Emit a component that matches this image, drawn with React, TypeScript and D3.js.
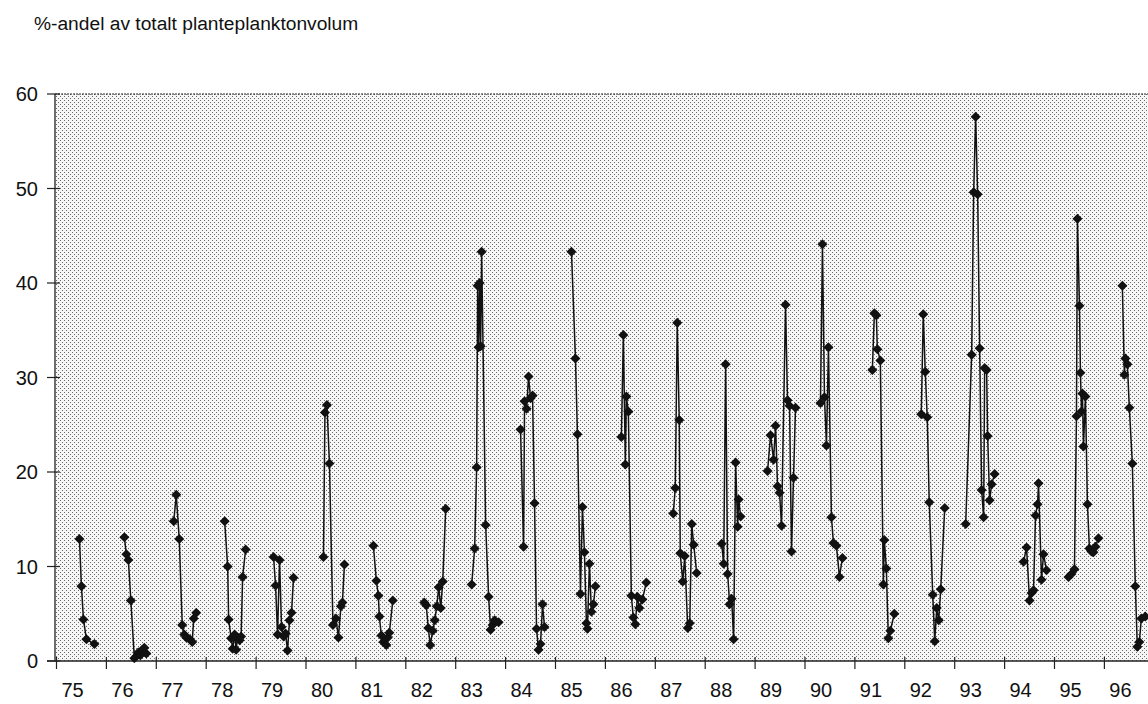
import React from "react";
import * as d3 from "d3";

// Year labels on the x axis
const yearLabels = ["75","76","77","78","79","80","81","82","83","84","85","86","87","88","89","90","91","92","93","94","95","96"];
const firstYear = 1975;

// Sample times within each season (fraction of year)
const sampleFractions: number[][] = [
  [0.46,0.50,0.54,0.60,0.76],
  [0.36,0.40,0.44,0.49,0.56,0.60,0.64,0.68,0.72,0.76,0.80],
  [0.35,0.40,0.46,0.52,0.56,0.60,0.67,0.72,0.75,0.80],
  [0.37,0.43,0.45,0.50,0.53,0.57,0.60,0.63,0.67,0.70,0.73,0.79],
  [0.35,0.39,0.43,0.47,0.51,0.55,0.59,0.63,0.67,0.71,0.75],
  [0.35,0.38,0.42,0.47,0.54,0.60,0.65,0.70,0.73,0.77],
  [0.35,0.41,0.45,0.47,0.51,0.55,0.61,0.64,0.67,0.74],
  [0.37,0.41,0.45,0.49,0.54,0.58,0.62,0.66,0.70,0.74,0.80],
  [0.32,0.38,0.42,0.44,0.46,0.48,0.50,0.52,0.60,0.66,0.70,0.74,0.78,0.86],
  [0.30,0.36,0.38,0.42,0.46,0.50,0.54,0.58,0.62,0.66,0.70,0.74,0.78],
  [0.32,0.40,0.44,0.50,0.54,0.58,0.62,0.64,0.68,0.72,0.76,0.80],
  [0.32,0.36,0.40,0.42,0.46,0.52,0.56,0.60,0.64,0.68,0.74,0.82],
  [0.36,0.40,0.44,0.48,0.50,0.55,0.59,0.65,0.69,0.73,0.77,0.83],
  [0.33,0.37,0.41,0.45,0.49,0.53,0.57,0.61,0.65,0.67,0.71],
  [0.25,0.31,0.37,0.41,0.45,0.49,0.53,0.61,0.65,0.69,0.73,0.77,0.81],
  [0.31,0.35,0.39,0.43,0.47,0.53,0.57,0.63,0.69,0.75],
  [0.35,0.39,0.43,0.45,0.51,0.57,0.59,0.63,0.67,0.71,0.79],
  [0.33,0.37,0.41,0.45,0.49,0.56,0.60,0.64,0.68,0.72,0.80],
  [0.22,0.34,0.38,0.42,0.46,0.50,0.54,0.58,0.60,0.64,0.66,0.70,0.74,0.80],
  [0.38,0.44,0.50,0.54,0.58,0.62,0.66,0.68,0.74,0.78,0.84],
  [0.28,0.34,0.40,0.44,0.46,0.50,0.52,0.54,0.56,0.58,0.62,0.66,0.70,0.74,0.78,0.82,0.88],
  [0.36,0.40,0.42,0.46,0.50,0.56,0.62,0.66,0.70,0.74,0.82],
];

// Percent of total phytoplankton volume
const sampleValues: number[][] = [
  [12.9,7.9,4.4,2.3,1.8],
  [13.1,11.3,10.7,6.4,0.3,0.5,0.9,0.6,1.2,1.4,0.8],
  [14.8,17.6,12.9,3.8,2.8,2.5,2.3,2.0,4.5,5.1],
  [14.8,10.0,4.4,2.4,1.3,2.8,1.2,2.5,2.2,2.6,8.9,11.8],
  [11.0,8.0,2.8,10.7,3.6,2.6,2.9,1.1,4.3,5.1,8.8],
  [11.0,26.3,27.1,20.9,3.8,4.5,2.5,5.8,6.2,10.2],
  [12.2,8.5,6.9,4.7,2.7,2.0,1.7,2.5,3.0,6.4],
  [6.2,5.9,3.5,1.7,3.2,4.3,5.8,7.8,5.6,8.4,16.1],
  [8.1,11.9,20.5,39.7,33.2,40.0,33.3,43.3,14.4,6.8,3.3,3.8,4.3,4.1],
  [24.5,12.1,27.5,26.7,30.1,27.8,28.1,16.7,3.4,1.2,1.8,6.0,3.6],
  [43.3,32.0,24.0,7.1,16.3,11.5,4.0,3.4,10.3,5.2,6.0,7.9],
  [23.7,34.5,20.8,28.0,26.4,6.9,4.6,3.9,6.8,5.6,6.5,8.3],
  [15.6,18.3,35.8,25.5,11.4,8.4,11.1,3.5,4.0,14.5,12.3,9.3],
  [12.4,10.3,31.4,9.2,6.0,6.6,2.3,21.0,14.2,17.1,15.3],
  [20.1,23.9,21.3,24.9,18.5,17.8,14.3,37.7,27.6,27.0,11.6,19.4,26.8],
  [27.3,44.1,27.9,22.8,33.2,15.2,12.5,12.2,8.9,10.9],
  [30.8,36.8,36.6,33.0,31.8,8.1,12.8,9.8,2.4,3.2,5.0],
  [26.1,36.7,30.6,25.8,16.8,7.0,2.1,5.6,4.3,7.6,16.2],
  [14.5,32.4,49.6,57.6,49.4,33.1,18.1,15.2,31.0,30.8,23.8,17.0,18.7,19.8],
  [10.5,12.0,6.4,7.2,7.5,15.4,16.6,18.8,8.6,11.3,9.6],
  [8.9,9.2,9.7,25.9,46.8,37.6,30.5,26.4,28.3,22.7,28.0,16.6,11.9,11.6,11.5,12.1,13.0],
  [39.7,30.3,32.0,31.4,26.8,20.9,7.9,1.5,2.0,4.5,4.7],
];

const yTicks = [0, 10, 20, 30, 40, 50, 60];
const title = "%-andel av totalt planteplanktonvolum";

export default function App() {
  const W = 1148, H = 704;
  const left = 55, top = 94, bottom = 661, right = 1160;
  const yearW = 49.9;
  const x = d3.scaleLinear().domain([firstYear, firstYear + yearLabels.length]).range([56.5, 56.5 + yearW * yearLabels.length]);
  const y = d3.scaleLinear().domain([0, 60]).range([bottom, top]);
  const line = d3.line<[number, number]>().x(d => x(d[0])).y(d => y(d[1]));
  const diamond = "M0,-5L5,0L0,5L-5,0Z";
  const font = "'Liberation Sans', Arial, Helvetica, sans-serif";

  const series = sampleValues.map((vals, i) =>
    vals.map((v, j) => [firstYear + i + sampleFractions[i][j], v] as [number, number])
  );

  return (
    <svg width={W} height={H} style={{ position: "absolute", left: 0, top: 0, background: "#fff" }}>
      <defs>
        <pattern id="dots" width="4" height="4" patternUnits="userSpaceOnUse">
          <rect width="4" height="4" fill="#f6f6f6" />
          <rect x="0" y="0" width="1" height="1" fill="#6a6a6a" />
          <rect x="2" y="2" width="1" height="1" fill="#6a6a6a" />
        </pattern>
        <clipPath id="plotclip">
          <rect x={left} y={top - 2} width={right - left} height={bottom - top + 4} />
        </clipPath>
      </defs>
      <text x={34} y={30} fontFamily={font} fontSize={19.2} fill="#111">{title}</text>
      <rect x={left} y={top} width={right - left} height={bottom - top} fill="url(#dots)" />
      <line x1={left} x2={right} y1={top} y2={top} stroke="#222" strokeWidth={1.2} strokeDasharray="2,1" />
      <line x1={left} x2={left} y1={top} y2={bottom} stroke="#222" strokeWidth={1.3} />
      <line x1={left - 8} x2={right} y1={bottom} y2={bottom} stroke="#222" strokeWidth={1.3} />
      {yTicks.map(t => (
        <g key={t}>
          <line x1={left - 8} x2={left + 5} y1={y(t)} y2={y(t)} stroke="#222" strokeWidth={1.2} />
          <text x={38} y={y(t) + 7} textAnchor="end" fontFamily={font} fontSize={20} fill="#111">{t}</text>
        </g>
      ))}
      {yearLabels.map((lab, i) => {
        const tx = x(firstYear + i);
        return (
          <g key={lab}>
            <line x1={tx} x2={tx} y1={bottom - 4} y2={bottom + 8} stroke="#222" strokeWidth={1.2} />
            <text x={tx + 16} y={697} textAnchor="middle" fontFamily={font} fontSize={20} fill="#111">{lab}</text>
          </g>
        );
      })}
      <g clipPath="url(#plotclip)">
        {series.map((pts, i) => (
          <g key={i}>
            <path d={line(pts) || ""} fill="none" stroke="#111" strokeWidth={1.5} />
            {pts.map((p, j) => (
              <path key={j} d={diamond} transform={`translate(${x(p[0])},${y(p[1])})`} fill="#111" />
            ))}
          </g>
        ))}
      </g>
    </svg>
  );
}
